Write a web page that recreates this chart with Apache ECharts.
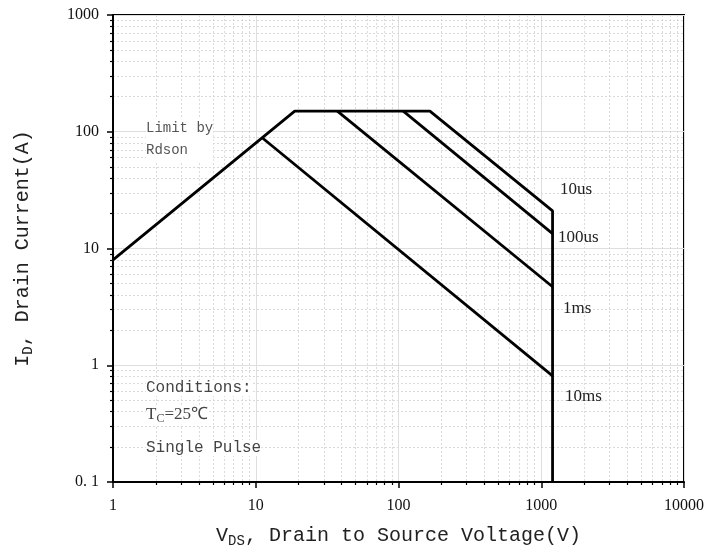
<!DOCTYPE html>
<html>
<head>
<meta charset="utf-8">
<script src="https://cdn.jsdelivr.net/npm/echarts@6/dist/echarts.min.js"></script>
<style>
  html, body { margin: 0; padding: 0; background: #fff; }
  #chart { width: 724px; height: 553px; }
</style>
</head>
<body>
<div id="chart"></div>
<script>
// safe operating area, log-log; points are [VDS (V), ID (A)]
const curve10us = [[1, 8], [18.75, 150], [166, 150], [1200, 21], [1200, 0.1]]
const curve100us = [[108, 150], [1200, 13.4]]
const curve1ms = [[37.3, 150], [1200, 4.7]]
const curve10ms = [[11.2, 88], [1200, 0.81]]

const xTickLabels = { 1: '1', 10: '10', 100: '100', 1000: '1000', 10000: '10000' }
const yTickLabels = { 0.1: '0. 1', 1: '1', 10: '10', 100: '100', 1000: '1000' }

// minor ticks 2..9 of each decade
const minorX = []
const minorY = []
;[1, 10, 100, 1000].forEach(d => { for (let k = 2; k <= 9; k++) minorX.push(k * d) })
;[0.1, 1, 10, 100].forEach(d => { for (let k = 2; k <= 9; k++) minorY.push(+(k * d).toPrecision(3)) })

const tickFont = { fontFamily: 'Liberation Serif', fontSize: 16, color: '#111' }
const monoFont = 'Liberation Mono'

const chart = echarts.init(document.getElementById('chart'))

const lineStyle = { color: '#000', width: 2.8 }
function curve(name, data) {
  return {
    name, type: 'line', data, showSymbol: false, symbol: 'none',
    lineStyle, animation: false, silent: true, z: 5
  }
}

const titleRich = {
  m: { fontFamily: monoFont, fontSize: 20, color: '#222' },
  s: { fontFamily: monoFont, fontSize: 14, color: '#222', padding: [10, 0, 0, 0] }
}

chart.setOption({
  backgroundColor: '#fff',
  grid: {
    left: 113, top: 15, right: 40, bottom: 69,
    show: true, borderColor: '#000', borderWidth: 2, backgroundColor: 'transparent'
  },
  xAxis: [{
    type: 'log', logBase: 10, min: 1, max: 10000,
    axisLine: { lineStyle: { color: '#000', width: 2 } },
    axisTick: { inside: false, length: 6, lineStyle: { color: '#000', width: 1.5 } },
    axisLabel: { ...tickFont, margin: 16, formatter: v => xTickLabels[+v.toPrecision(3)] || '' },
    splitLine: { show: true, lineStyle: { color: '#dedede', width: 1 } },
    name: '{m|V}{s|DS}{m|, Drain to Source Voltage(V)}',
    nameLocation: 'middle', nameGap: 42,
    nameTextStyle: { rich: titleRich }
  }, {
    type: 'log', logBase: 10, min: 1, max: 10000, position: 'bottom',
    axisLine: { show: false },
    axisTick: { customValues: minorX, length: 3, lineStyle: { color: '#000', width: 1.2 } },
    axisLabel: { show: false },
    splitLine: { show: true, lineStyle: { color: '#dadada', width: 1, type: [2, 2] } }
  }],
  yAxis: [{
    type: 'log', logBase: 10, min: 0.1, max: 1000,
    axisLine: { lineStyle: { color: '#000', width: 2 } },
    axisTick: { inside: false, length: 6, lineStyle: { color: '#000', width: 1.5 } },
    axisLabel: { ...tickFont, margin: 14, formatter: v => yTickLabels[+v.toPrecision(3)] || '' },
    splitLine: { show: true, lineStyle: { color: '#dedede', width: 1 } },
    name: '{m|I}{s|D}{m|, Drain Current(A)}',
    nameLocation: 'middle', nameGap: 78, nameRotate: 90,
    nameTextStyle: { rich: titleRich }
  }, {
    type: 'log', logBase: 10, min: 0.1, max: 1000, position: 'left',
    axisLine: { show: false },
    axisTick: { customValues: minorY, length: 3, lineStyle: { color: '#000', width: 1.2 } },
    axisLabel: { show: false },
    splitLine: { show: true, lineStyle: { color: '#dadada', width: 1, type: [2, 2] } }
  }],
  series: [
    curve('10us', curve10us),
    curve('100us', curve100us),
    curve('1ms', curve1ms),
    curve('10ms', curve10ms)
  ],
  graphic: [
    { type: 'text', left: 146, top: 117, z: 10, style: { text: 'Limit by\nRdson', font: '14px "Liberation Mono"', fill: '#555', lineHeight: 22, backgroundColor: '#fff' } },
    { type: 'text', left: 560, top: 181, z: 10, style: { text: '10us', font: '17px "Liberation Serif"', fill: '#222' } },
    { type: 'text', left: 558, top: 229, z: 10, style: { text: '100us', font: '17px "Liberation Serif"', fill: '#222' } },
    { type: 'text', left: 563, top: 300, z: 10, style: { text: '1ms', font: '17px "Liberation Serif"', fill: '#222' } },
    { type: 'text', left: 565, top: 388, z: 10, style: { text: '10ms', font: '17px "Liberation Serif"', fill: '#222' } },
    { type: 'text', left: 146, top: 380, z: 10, style: { text: 'Conditions:', font: '16px "Liberation Mono"', fill: '#444', backgroundColor: '#fff' } },
    {
      type: 'text', left: 146, top: 405, z: 10,
      style: {
        text: '{m|T}{s|C}{m|=25℃}',
        backgroundColor: '#fff',
        rich: {
          m: { fontFamily: 'Liberation Serif', fontSize: 17, fill: '#444' },
          s: { fontFamily: 'Liberation Serif', fontSize: 12, fill: '#444', padding: [8, 0, 0, 0] }
        }
      }
    },
    { type: 'text', left: 146, top: 440, z: 10, style: { text: 'Single Pulse', font: '16px "Liberation Mono"', fill: '#444', backgroundColor: '#fff' } }
  ]
})
</script>
</body>
</html>
